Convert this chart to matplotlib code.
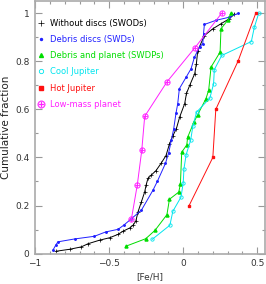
import matplotlib
matplotlib.use("Agg")
import matplotlib.pyplot as plt
from matplotlib.ticker import MultipleLocator

# Without discs (SWODs)
swod_x = [-0.857, -0.767, -0.688, -0.643, -0.564, -0.497, -0.44, -0.407, -0.36, -0.339,
          -0.32, -0.305, -0.282, -0.26, -0.251, -0.238, -0.215, -0.184, -0.15, -0.116,
          -0.093, -0.07, -0.046, -0.024, 0.01, 0.022, 0.044, 0.078, 0.089, 0.098,
          0.143, 0.2, 0.255, 0.312, 0.346]
swod_y = [0.01, 0.018, 0.028, 0.041, 0.056, 0.066, 0.08, 0.093, 0.107, 0.118,
          0.135, 0.174, 0.216, 0.257, 0.284, 0.313, 0.327, 0.345, 0.375, 0.408,
          0.456, 0.49, 0.52, 0.568, 0.624, 0.666, 0.7, 0.749, 0.79, 0.844,
          0.907, 0.935, 0.956, 0.977, 0.997]

# Debris discs (SWDs)
swd_x = [-0.88, -0.86, -0.846, -0.733, -0.6, -0.524, -0.44, -0.40, -0.35, -0.282,
         -0.204, -0.175, -0.12, -0.098, -0.08, -0.064, -0.049, -0.037, -0.026, 0.02,
         0.053, 0.076, 0.11, 0.132, 0.137, 0.143, 0.22, 0.31, 0.373]
swd_y = [0.014, 0.036, 0.049, 0.061, 0.072, 0.09, 0.101, 0.119, 0.145, 0.181,
         0.264, 0.3, 0.375, 0.42, 0.472, 0.52, 0.583, 0.624, 0.686, 0.734,
         0.769, 0.817, 0.859, 0.873, 0.914, 0.953, 0.97, 0.983, 1.0]

# Debris and planet (SWDPs)
swdp_x = [-0.386, -0.253, -0.19, -0.11, -0.093, -0.03, -0.019, -0.01, 0.024, 0.03,
          0.073, 0.098, 0.154, 0.172, 0.188, 0.249, 0.255, 0.30, 0.323]
swdp_y = [0.031, 0.062, 0.097, 0.162, 0.226, 0.256, 0.289, 0.422, 0.452, 0.484,
          0.548, 0.578, 0.645, 0.68, 0.776, 0.838, 0.935, 0.97, 1.0]

# Cool Jupiter
cool_x = [-0.21, -0.09, -0.07, -0.015, 0.0, 0.005, 0.02, 0.05, 0.065, 0.09,
          0.18, 0.205, 0.21, 0.26, 0.46, 0.48, 0.51]
cool_y = [0.059, 0.118, 0.176, 0.235, 0.294, 0.353, 0.412, 0.471, 0.529, 0.588,
          0.647, 0.706, 0.765, 0.824, 0.882, 0.941, 1.0]

# Hot Jupiter
hot_x = [0.04, 0.20, 0.22, 0.37, 0.49]
hot_y = [0.2, 0.4, 0.6, 0.8, 1.0]

# Low-mass planet
low_x = [-0.35, -0.31, -0.28, -0.26, -0.11, 0.08, 0.26]
low_y = [0.143, 0.286, 0.429, 0.571, 0.714, 0.857, 1.0]

fig = plt.figure(figsize=(2.66, 2.84), dpi=100)
ax = fig.add_axes([0.132, 0.107, 0.863, 0.889])

lw = 0.7
ax.plot(swod_x, swod_y, color="black", marker="+", ms=2.8, mew=0.5, lw=lw,
        label="Without discs (SWODs)")
ax.plot(swd_x, swd_y, color="#2020ff", marker=".", ms=2.2, lw=lw,
        label="Debris discs (SWDs)")
ax.plot(swdp_x, swdp_y, color="#00dd00", marker="^", ms=2.2, lw=lw,
        label="Debris and planet (SWDPs)")
ax.plot(cool_x, cool_y, color="#00e5ee", marker="o", ms=2.4, mfc="none", mew=0.6, lw=lw,
        label="Cool Jupiter")
ax.plot(hot_x, hot_y, color="#ff1010", marker="s", ms=1.8, lw=lw,
        label="Hot Jupiter")
ax.plot(low_x, low_y, color="#ff20ff", marker=r"$\oplus$", ms=4.2, mew=0.2, lw=lw,
        label="Low-mass planet")

ax.set_xlim(-1.0, 0.55)
ax.set_ylim(0, 1.05)
ax.xaxis.set_major_locator(MultipleLocator(0.5))
ax.xaxis.set_minor_locator(MultipleLocator(0.1))
ax.yaxis.set_major_locator(MultipleLocator(0.2))
ax.yaxis.set_minor_locator(MultipleLocator(0.1))
ax.set_xticks([-1, -0.5, 0, 0.5])
ax.set_xticklabels(["\u22121", "\u22120.5", "0", "0.5"])
ax.set_yticks([0, 0.2, 0.4, 0.6, 0.8, 1.0])
ax.set_yticklabels(["0", "0.2", "0.4", "0.6", "0.8", "1"])

ax.tick_params(which="both", direction="in", top=True, right=True,
               color="#999999", labelsize=6.5, labelcolor="#333333", pad=4)
ax.tick_params(which="major", length=5, width=0.8)
ax.tick_params(which="minor", length=2.5, width=0.8)
for s in ax.spines.values():
    s.set_color("#aaaaaa")
    s.set_linewidth(1.2)

ax.set_xlabel("[Fe/H]", fontsize=6.5, color="#333333", labelpad=3)
ax.set_ylabel("Cumulative fraction", fontsize=7.5, color="#222222", labelpad=3)

ax.legend(loc="upper left", frameon=False, fontsize=6, labelcolor="linecolor",
          handlelength=0, handletextpad=1.1, labelspacing=0.86,
          borderaxespad=0.3, bbox_to_anchor=(0.0, 0.953), markerscale=1.3)

fig.savefig("out.png", dpi=100)
